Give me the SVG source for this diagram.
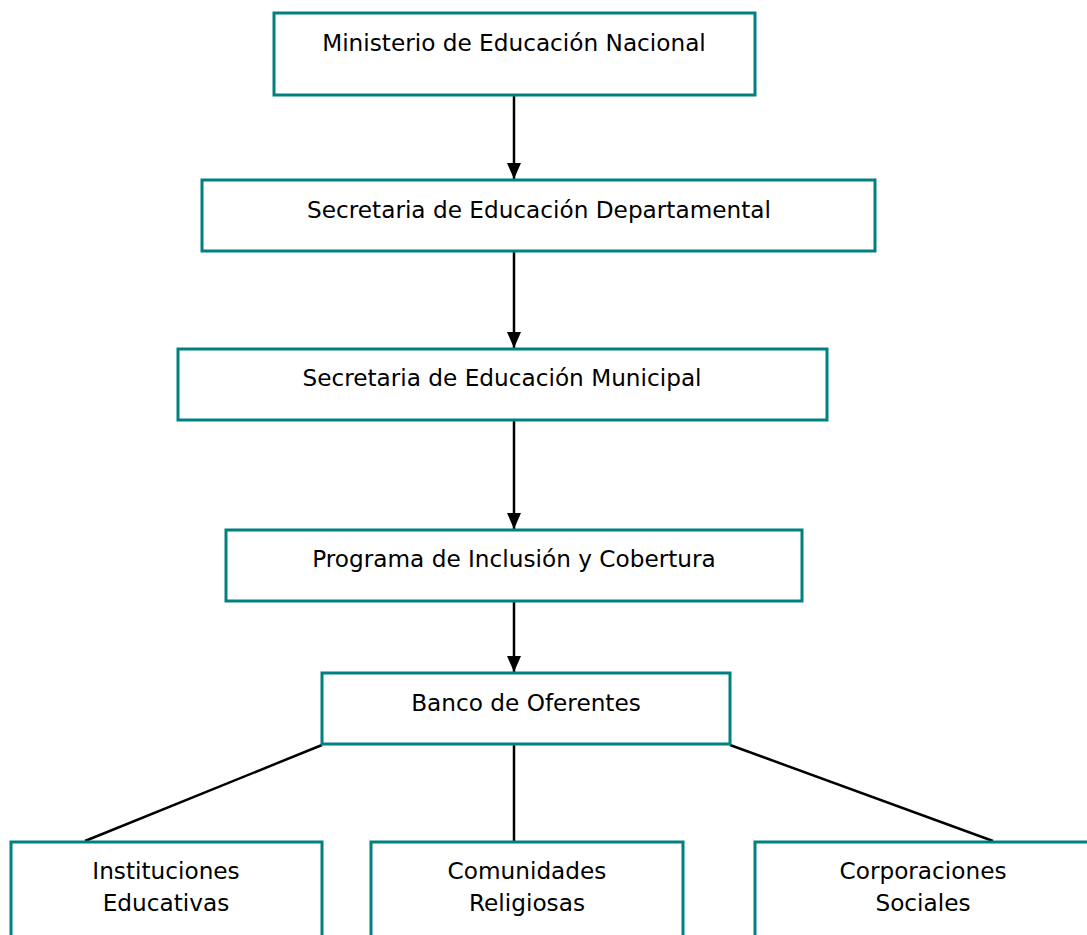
<svg xmlns="http://www.w3.org/2000/svg" width="1087" height="935" viewBox="0 0 1087 935">
<defs>
<style>
.box{fill:#fff;stroke:#008080;stroke-width:3}
.t{font-family:"DejaVu Sans","Liberation Sans",sans-serif;font-size:23.2px;fill:#000;text-anchor:middle}
.c{stroke:#000;stroke-width:2.5;fill:none}
</style>
<marker id="a" markerWidth="16" markerHeight="14" refX="16" refY="7" orient="auto" markerUnits="userSpaceOnUse" viewBox="0 0 16 14">
<path d="M0,0 L16,7 L0,14 Z" fill="#000"/>
</marker>
</defs>
<rect width="1087" height="935" fill="#fff"/>
<g id="connectors">
<line class="c" x1="514" y1="95" x2="514" y2="179" marker-end="url(#a)"/>
<line class="c" x1="514" y1="251" x2="514" y2="348" marker-end="url(#a)"/>
<line class="c" x1="514" y1="420" x2="514" y2="529" marker-end="url(#a)"/>
<line class="c" x1="514" y1="601" x2="514" y2="672" marker-end="url(#a)"/>
<line class="c" x1="322" y1="745" x2="85" y2="841"/>
<line class="c" x1="514" y1="745" x2="514" y2="842"/>
<line class="c" x1="730" y1="745" x2="993" y2="841"/>
</g>
<g id="n1"><rect class="box" x="274" y="13" width="481" height="82"/><text class="t" x="514" y="51">Ministerio de Educación Nacional</text></g>
<g id="n2"><rect class="box" x="202" y="180" width="673" height="71"/><text class="t" x="539" y="218">Secretaria de Educación Departamental</text></g>
<g id="n3"><rect class="box" x="178" y="349" width="649" height="71"/><text class="t" x="502" y="386">Secretaria de Educación Municipal</text></g>
<g id="n4"><rect class="box" x="226" y="530" width="576" height="71"/><text class="t" x="514" y="567">Programa de Inclusión y Cobertura</text></g>
<g id="n5"><rect class="box" x="322" y="673" width="408" height="71"/><text class="t" x="526" y="711">Banco de Oferentes</text></g>
<g id="n6"><rect class="box" x="11" y="842" width="311" height="110"/><text class="t" x="166" y="879">Instituciones</text><text class="t" x="166" y="911">Educativas</text></g>
<g id="n7"><rect class="box" x="371" y="842" width="312" height="110"/><text class="t" x="527" y="879">Comunidades</text><text class="t" x="527" y="911">Religiosas</text></g>
<g id="n8"><rect class="box" x="755" y="842" width="340" height="110"/><text class="t" x="923" y="879">Corporaciones</text><text class="t" x="923" y="911">Sociales</text></g>
</svg>
